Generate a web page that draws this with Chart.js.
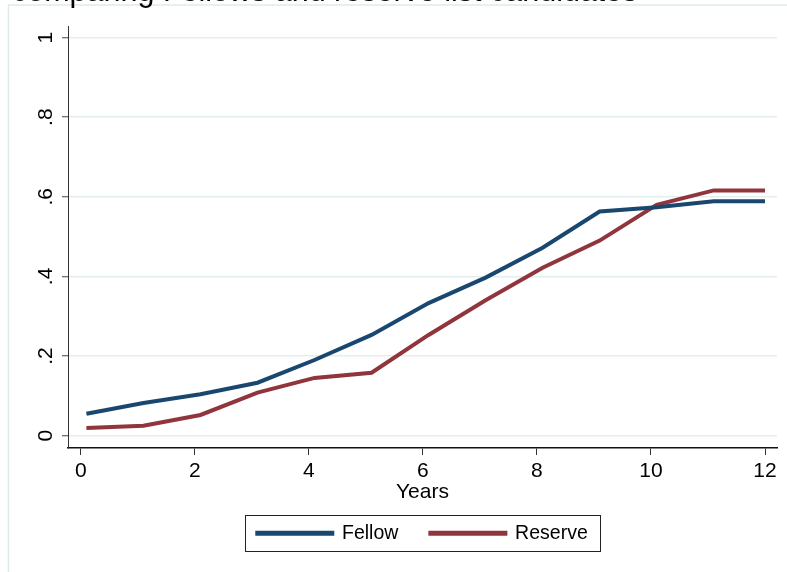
<!DOCTYPE html>
<html>
<head>
<meta charset="utf-8">
<script src="https://cdn.jsdelivr.net/npm/chart.js@4"></script>
<style>
  html, body { margin: 0; padding: 0; background: #fff; overflow: hidden; }
  #wrap { position: absolute; left: 0; top: -27px; width: 787px; height: 599px; }
</style>
</head>
<body>
<div id="wrap"><canvas id="myChart" width="787" height="599"></canvas></div>
<script>
// values
const chartTitle = 'comparing Fellows and reserve list candidates';
const years = [0.1, 1.1, 2.1, 3.1, 4.1, 5.1, 6.1, 7.1, 8.1, 9.1, 10.1, 11.1, 12];
const fellow = [0.055, 0.082, 0.104, 0.133, 0.19, 0.253, 0.333, 0.397, 0.472, 0.563, 0.574, 0.589, 0.589];
const reserve = [0.019, 0.025, 0.052, 0.108, 0.145, 0.158, 0.253, 0.34, 0.422, 0.49, 0.58, 0.616, 0.616];
const xTicks = [0, 2, 4, 6, 8, 10, 12];
const yTicks = [0, 0.2, 0.4, 0.6, 0.8, 1];
const yTickLabels = ['0', '.2', '.4', '.6', '.8', '1'];

const fellowColor = '#1a476f';
const reserveColor = '#90353b';
const gridColor = '#e3eef0';
const fontFamily = '"Liberation Sans", Arial, Helvetica, sans-serif';

function toPoints(xs, ys) {
  return xs.map((x, i) => ({x: x, y: ys[i]}));
}

// faint outer frame like the graph region border
const framePlugin = {
  id: 'frame',
  beforeDraw(chart) {
    const ctx = chart.ctx;
    ctx.save();
    ctx.strokeStyle = '#dfeaec';
    ctx.lineWidth = 1.5;
    ctx.beginPath();
    ctx.moveTo(8.5, chart.height);
    ctx.lineTo(8.5, 32);
    ctx.lineTo(chart.width, 32);
    ctx.stroke();
    ctx.restore();
  }
};

// centre the legend under the plot area and put a box round it
const legendBoxPlugin = {
  id: 'legendBox',
  afterUpdate(chart) {
    const legend = chart.legend;
    const area = chart.chartArea;
    const dx = (area.left + area.right) / 2 - (legend.left + legend.right) / 2;
    legend.left += dx;
    legend.right += dx;
    legend.legendHitBoxes.forEach((hb) => { hb.left += dx; });
  },
  afterDraw(chart) {
    const boxes = chart.legend.legendHitBoxes;
    if (!boxes || !boxes.length) return;
    const first = boxes[0];
    const last = boxes[boxes.length - 1];
    const cy = first.top + first.height / 2;
    const left = Math.round(first.left - 12);
    const right = Math.round(last.left + last.width + 12);
    const ctx = chart.ctx;
    ctx.save();
    ctx.strokeStyle = '#222';
    ctx.lineWidth = 1;
    ctx.strokeRect(left + 0.5, Math.round(cy - 18) + 0.5, right - left, 36);
    ctx.restore();
  }
};

const data = {
  datasets: [
    {
      label: 'Fellow',
      data: toPoints(years, fellow),
      borderColor: fellowColor,
      backgroundColor: fellowColor,
      borderWidth: 4,
      pointRadius: 0,
      tension: 0
    },
    {
      label: 'Reserve',
      data: toPoints(years, reserve),
      borderColor: reserveColor,
      backgroundColor: reserveColor,
      borderWidth: 4,
      pointRadius: 0,
      tension: 0
    }
  ]
};

const config = {
  type: 'line',
  data: data,
  options: {
    responsive: false,
    animation: false,
    devicePixelRatio: 1,
    layout: { padding: { left: 12, right: 10, top: 0, bottom: 19 } },
    plugins: {
      title: {
        display: true,
        text: chartTitle,
        align: 'start',
        color: '#000',
        font: { family: fontFamily, size: 30.5, weight: 'normal' },
        padding: { top: 1.5, bottom: 14.9 }
      },
      legend: {
        display: true,
        position: 'bottom',
        labels: {
          color: '#000',
          font: { family: fontFamily, size: 19.5 },
          boxWidth: 75,
          boxHeight: 1,
          padding: 32
        }
      },
      tooltip: { enabled: false }
    },
    scales: {
      x: {
        type: 'linear',
        min: -0.223,
        max: 12.21,
        afterBuildTicks: (scale) => { scale.ticks = xTicks.map((v) => ({value: v})); },
        afterFit: (scale) => { scale.height = 43.5; },
        ticks: {
          color: '#000',
          font: { family: fontFamily, size: 21 },
          padding: 4,
          maxRotation: 0,
          callback: (v) => String(v)
        },
        grid: {
          drawOnChartArea: false,
          tickColor: '#333',
          tickLength: 7,
          tickWidth: 1
        },
        border: { color: '#111', width: 1.5 },
        title: {
          display: true,
          text: 'Years',
          color: '#000',
          font: { family: fontFamily, size: 21 },
          padding: { top: 0, bottom: -13.1 }
        }
      },
      y: {
        type: 'linear',
        min: -0.031,
        max: 1.029,
        afterBuildTicks: (scale) => { scale.ticks = yTicks.map((v) => ({value: v})); },
        afterFit: (scale) => { scale.width = 56; },
        ticks: {
          color: '#000',
          font: { family: fontFamily, size: 21 },
          minRotation: 90,
          maxRotation: 90,
          crossAlign: 'center',
          padding: 7,
          callback: (v, i) => yTickLabels[i]
        },
        grid: {
          color: gridColor,
          lineWidth: 1.5,
          tickColor: '#444',
          tickLength: 6,
          tickWidth: 1
        },
        border: { color: '#333', width: 1 }
      }
    }
  },
  plugins: [framePlugin, legendBoxPlugin]
};

new Chart(document.getElementById('myChart'), config);
</script>
</body>
</html>
